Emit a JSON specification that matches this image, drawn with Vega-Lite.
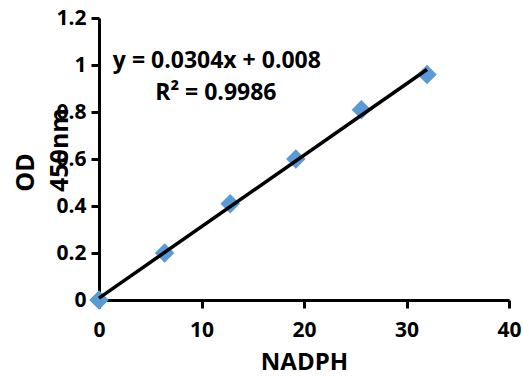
{
  "$schema": "https://vega.github.io/schema/vega-lite/v6.json",
  "width": 410,
  "height": 282,
  "autosize": {"type": "none"},
  "padding": {"left": 99, "top": 18, "right": 14, "bottom": 80},
  "background": "white",
  "config": {
    "view": {"stroke": null},
    "font": "Open Sans",
    "axis": {
      "grid": false,
      "domainColor": "black",
      "domainWidth": 3,
      "tickColor": "black",
      "tickWidth": 3,
      "tickSize": 8,
      "labelFlush": false,
      "labelFont": "Open Sans",
      "labelFontWeight": "bold",
      "labelFontSize": 21,
      "labelColor": "black",
      "titleFont": "Open Sans",
      "titleFontWeight": "bold",
      "titleFontSize": 24,
      "titleColor": "black"
    }
  },
  "datasets": {
    "points": [
      {"NADPH": 0, "OD": 0},
      {"NADPH": 6.4, "OD": 0.2},
      {"NADPH": 12.8, "OD": 0.41},
      {"NADPH": 19.2, "OD": 0.6},
      {"NADPH": 25.6, "OD": 0.81},
      {"NADPH": 32, "OD": 0.96}
    ],
    "trend": [
      {"NADPH": 0, "OD": 0.008},
      {"NADPH": 32, "OD": 0.9808}
    ],
    "labels": [
      {"NADPH": 11.5, "OD": 0.987, "text": "y = 0.0304x + 0.008"},
      {"NADPH": 11.4, "OD": 0.851, "text": "R² = 0.9986"}
    ],
    "unit": [
      {"NADPH": -3.8, "OD": 0.638, "text": "450nm"}
    ]
  },
  "layer": [
    {
      "data": {"name": "points"},
      "mark": {"type": "point", "shape": "diamond", "filled": true, "color": "#5B9BD5", "size": 380, "opacity": 1},
      "encoding": {
        "x": {
          "field": "NADPH", "type": "quantitative",
          "scale": {"domain": [0, 40], "nice": false, "zero": false},
          "axis": {"values": [0, 10, 20, 30, 40], "title": "NADPH", "labelPadding": 11, "titlePadding": 10}
        },
        "y": {
          "field": "OD", "type": "quantitative",
          "scale": {"domain": [0, 1.2], "nice": false, "zero": false},
          "axis": {
            "values": [0, 0.2, 0.4, 0.6, 0.8, 1, 1.2],
            "format": "~g",
            "labelPadding": 5,
            "title": "OD",
            "titleFontSize": 25,
            "titleAngle": -90,
            "titleBaseline": "middle",
            "titleAlign": "center",
            "titleX": -74,
            "titleY": 154
          }
        }
      }
    },
    {
      "data": {"name": "trend"},
      "mark": {"type": "line", "color": "black", "strokeWidth": 3.5},
      "encoding": {
        "x": {"field": "NADPH", "type": "quantitative"},
        "y": {"field": "OD", "type": "quantitative"}
      }
    },
    {
      "data": {"name": "labels"},
      "mark": {"type": "text", "font": "Open Sans", "fontWeight": "bold", "fontSize": 23, "color": "black", "align": "center", "baseline": "alphabetic"},
      "encoding": {
        "x": {"field": "NADPH", "type": "quantitative"},
        "y": {"field": "OD", "type": "quantitative"},
        "text": {"field": "text"}
      }
    },
    {
      "data": {"name": "unit"},
      "mark": {"type": "text", "font": "Open Sans", "fontWeight": "bold", "fontSize": 25, "color": "black", "align": "center", "baseline": "middle", "angle": 270},
      "encoding": {
        "x": {"field": "NADPH", "type": "quantitative"},
        "y": {"field": "OD", "type": "quantitative"},
        "text": {"field": "text"}
      }
    }
  ]
}
